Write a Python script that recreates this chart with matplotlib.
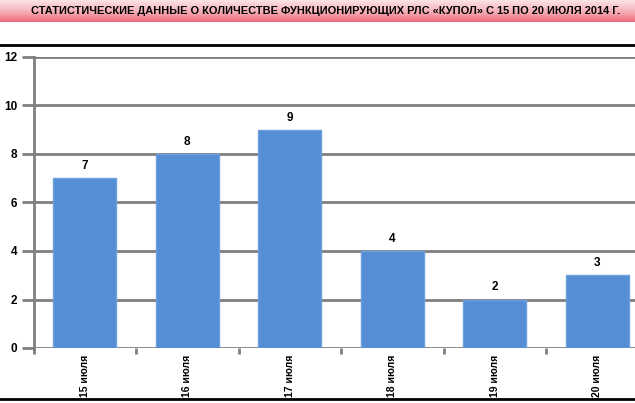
import numpy as np
import matplotlib.pyplot as plt
from matplotlib.lines import Line2D
from matplotlib.colors import LinearSegmentedColormap

# data
days = ['15 июля', '16 июля', '17 июля', '18 июля', '19 июля', '20 июля']
counts = [7, 8, 9, 4, 2, 3]
yticks = [0, 2, 4, 6, 8, 10, 12]
title = 'СТАТИСТИЧЕСКИЕ ДАННЫЕ О КОЛИЧЕСТВЕ ФУНКЦИОНИРУЮЩИХ РЛС «КУПОЛ» С 15 ПО 20 ИЮЛЯ 2014 Г.'

plt.rcParams['font.family'] = ['Liberation Sans', 'DejaVu Sans']
plt.rcParams['font.weight'] = 'bold'

W, H = 635, 403
fig = plt.figure(figsize=(W / 100, H / 100), dpi=100)

# pink banner on top
ban = fig.add_axes([0, 1 - 22 / H, 1, 22 / H])
cmap = LinearSegmentedColormap.from_list('ban', ['#fbe3e6', '#f6b3bb', '#ee6c7b'])
ban.imshow(np.linspace(0, 1, 50).reshape(-1, 1), aspect='auto', cmap=cmap,
           extent=[0, 1, 0, 1])
ban.axis('off')
fig.text(0.513, 1 - 11 / H, title, ha='center', va='center', fontsize=7.9,
         fontweight='bold', color='black')

# black separator lines
fig.add_artist(Line2D([0, 1], [1 - 44.5 / H, 1 - 44.5 / H], color='black', lw=2))
fig.add_artist(Line2D([0, 1], [1 - 398.5 / H, 1 - 398.5 / H], color='black', lw=2))

ax = fig.add_axes([33.5 / W, (H - 348) / H, 615 / W, (348 - 57) / H])
x = np.arange(len(days))
bars = ax.bar(x, counts, width=0.615, color='#558ed5', edgecolor='#6a9fe0',
              linewidth=1, zorder=3)
for xi, v in zip(x, counts):
    ax.text(xi, v + 0.25, str(v), ha='center', va='bottom', fontsize=8.5,
            fontweight='bold')

ax.set_xlim(-0.5, len(days) - 0.5)
ax.set_ylim(0, 12)
ax.set_yticks(yticks)
ax.set_yticklabels([str(t) for t in yticks], fontsize=8.5, fontweight='bold')
ax.yaxis.grid(True, color='#7f7f7f', lw=2, zorder=0)
ax.set_axisbelow(True)

ax.set_xticks(x)
ax.set_xticklabels(days, rotation=90, fontsize=7.5, fontweight='bold')
ax.set_xticks(np.arange(len(days) + 1) - 0.5, minor=True)
ax.tick_params(axis='x', which='major', length=0, pad=5)
ax.tick_params(axis='x', which='minor', length=4, width=2, color='#7f7f7f')
ax.tick_params(axis='y', length=8.6, width=2, color='#7f7f7f', pad=3)

for s in ['top', 'right', 'bottom']:
    ax.spines[s].set_visible(False)
ax.spines['left'].set_color('#7f7f7f')
ax.spines['left'].set_linewidth(2)
ax.spines['left'].set_bounds(0, 12)

fig.savefig('out.png', dpi=100)
